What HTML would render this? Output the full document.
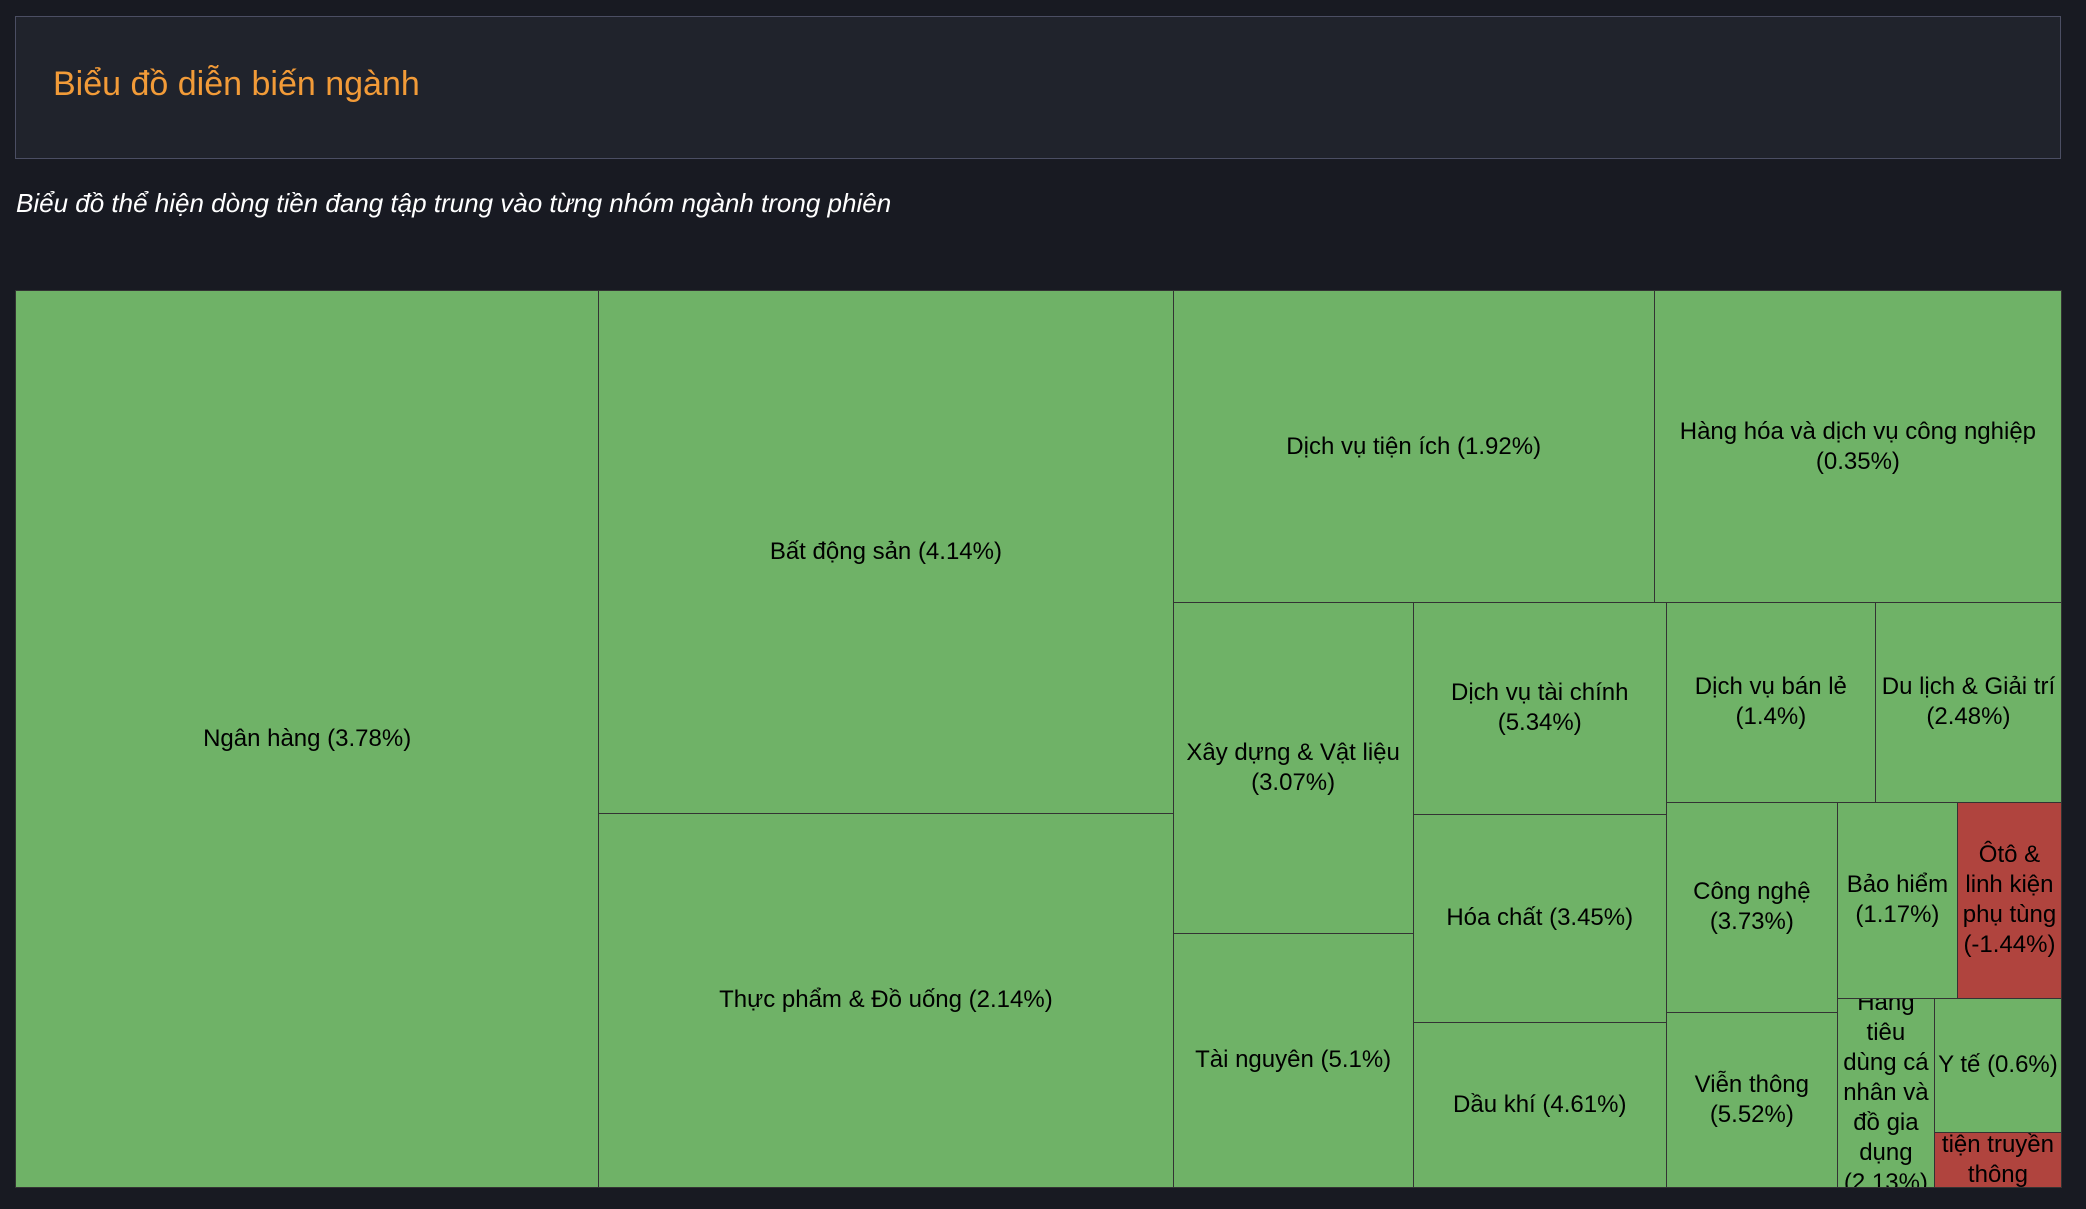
<!DOCTYPE html>
<html><head><meta charset="utf-8">
<style>
html,body{margin:0;padding:0;background:#181a22;width:2086px;height:1209px;overflow:hidden;font-family:"Liberation Sans",sans-serif;}
#header{position:absolute;left:15px;top:16px;width:2046px;height:143px;background:#20232c;border:1.5px solid #4b4e63;box-sizing:border-box;}
#title{position:absolute;left:37px;top:48px;color:#f29b38;font-size:34px;}
#subtitle{position:absolute;left:16px;top:188px;color:#fff;font-size:26px;font-style:italic;}
#tm{position:absolute;left:15px;top:290px;width:2047px;height:898px;background:#333;}
.cell{position:absolute;box-sizing:border-box;border:1px solid #333;display:flex;align-items:center;justify-content:center;overflow:hidden;}
.lbl{color:#000;font-size:24px;line-height:30px;text-align:center;padding:0 3px;}
</style></head>
<body>
<div id="header"><div id="title">Biểu đồ diễn biến ngành</div></div>
<div id="subtitle">Biểu đồ thể hiện dòng tiền đang tập trung vào từng nhóm ngành trong phiên</div>
<div id="tm"></div>
<script>
const names = ["Ngân hàng","Bất động sản","Thực phẩm & Đồ uống","Dịch vụ tiện ích","Hàng hóa và dịch vụ công nghiệp","Xây dựng & Vật liệu","Tài nguyên","Dịch vụ tài chính","Hóa chất","Dầu khí","Dịch vụ bán lẻ","Du lịch & Giải trí","Công nghệ","Viễn thông","Bảo hiểm","Ôtô & linh kiện phụ tùng","Hàng tiêu dùng cá nhân và đồ gia dụng","Y tế","Phương tiện truyền thông"];
const pcts = [3.78,4.14,2.14,1.92,0.35,3.07,5.1,5.34,3.45,4.61,1.4,2.48,3.73,5.52,1.17,-1.44,2.13,0.6,-0.85];
const sizes = [522368,299628,214676,150072,126984,79200,60960,53383,52624,41745,41591,37014,35910,29925,23520,20384,18333,17018,6985];
// layout structure: h = side-by-side, v = stacked; numbers are leaf indices
const tree = {d:"h",c:[0,{d:"v",c:[1,2]},{d:"v",c:[{d:"h",c:[3,4]},{d:"h",c:[{d:"v",c:[5,6]},{d:"v",c:[7,8,9]},{d:"v",c:[{d:"h",c:[10,11]},{d:"h",c:[{d:"v",c:[12,13]},{d:"v",c:[{d:"h",c:[14,15]},{d:"h",c:[16,{d:"v",c:[17,18]}]}]}]}]}]}]}]};
function total(n){return typeof n==="number"?sizes[n]:n.c.reduce((s,k)=>s+total(k),0);}
const tm=document.getElementById('tm');
function place(n,x,y,w,h){
  if(typeof n==="number"){
    const d=document.createElement('div');
    d.className='cell';
    
    
    d.style.left=x+'px';d.style.top=y+'px';d.style.width=(w+1)+'px';d.style.height=(h+1)+'px';
    d.style.background=pcts[n]>=0?'#6fb267':'#b0443e';
    const l=document.createElement('div');
    l.className='lbl';
    
    
    l.textContent=names[n]+' ('+pcts[n]+'%)';
    d.appendChild(l);tm.appendChild(d);return;
  }
  const T=total(n);let o=0;
  n.c.forEach(k=>{const f=total(k)/T;
    if(n.d==="h"){place(k,x+o,y,w*f,h);o+=w*f;}else{place(k,x,y+o,w,h*f);o+=h*f;}});
}
place(tree,0,0,2046,897);
</script>
</body></html>
